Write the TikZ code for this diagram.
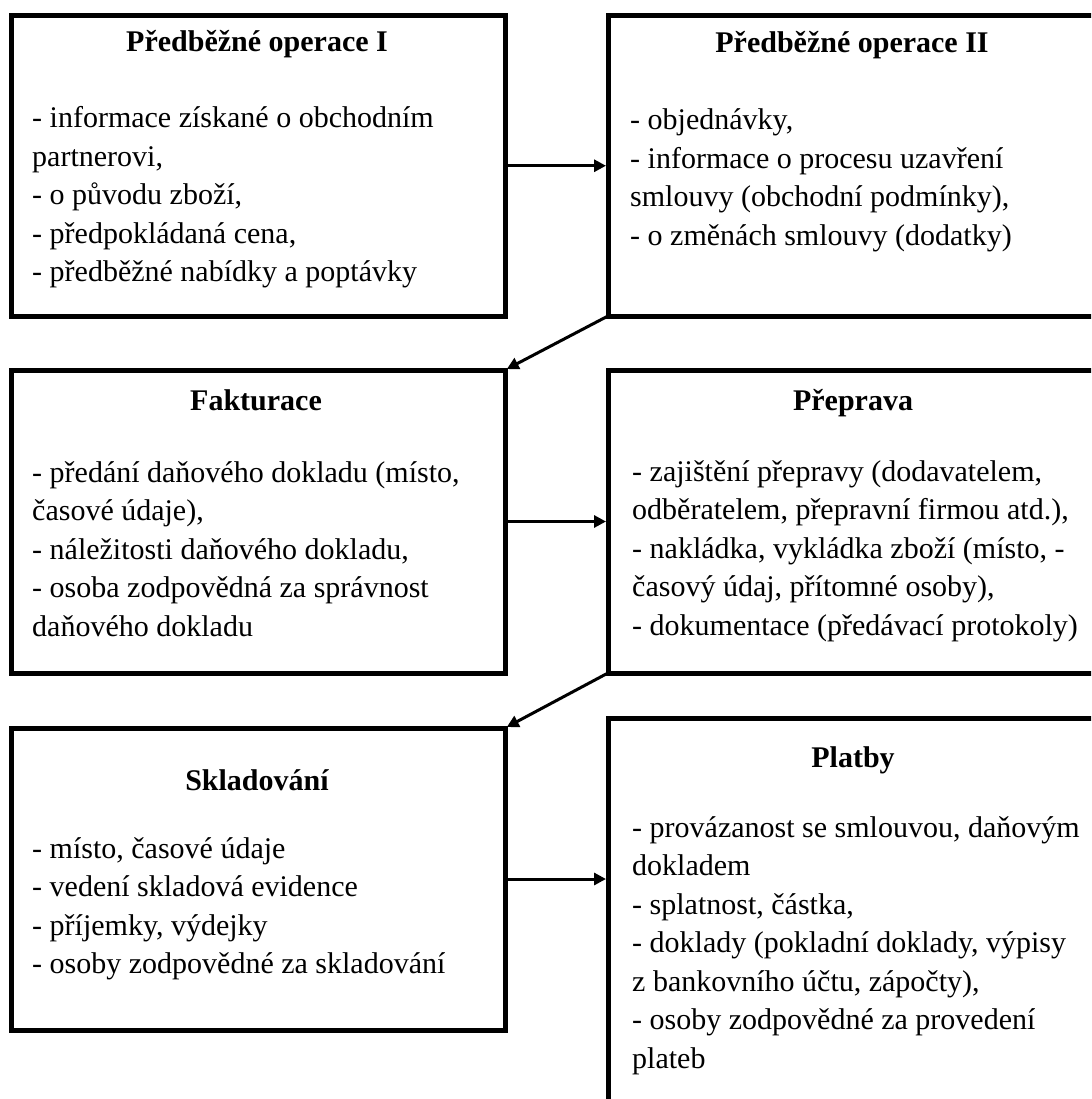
\documentclass[tikz,border=0pt]{standalone}
\usepackage{fontspec}
\setmainfont{Liberation Serif}
\usetikzlibrary{arrows.meta}

\tikzset{
  stage/.style={draw=black, line width=5pt, rectangle, outer sep=0pt, inner sep=0pt, fill=white},
  heading/.style={anchor=base, inner sep=0pt, font=\fontsize{30}{38.5}\selectfont\bfseries},
  items/.style={anchor=base west, inner sep=0pt, font=\fontsize{30}{38.5}\selectfont},
  flow/.style={line width=3pt, -{Triangle[length=12pt,width=12pt]}, shorten >=2pt},
}
\newcommand{\itemlist}[1]{\begin{tabular}[t]{@{}l@{}}#1\end{tabular}}

\begin{document}
\begin{tikzpicture}[x=1pt, y=-1pt]
  \useasboundingbox (0,0) rectangle (1091,1099);
  \fill[white] (0,0) rectangle (1091,1099);
  \clip (0,0) rectangle (1091,1099);

  % stage boxes (left column, right column running off the page)
  \node[stage, minimum width=493.5pt, minimum height=300.5pt] (b1) at (258.25,165.75) {};
  \node[stage, minimum width=500pt,   minimum height=300.5pt] (b2) at (858,165.75) {};
  \node[stage, minimum width=493.5pt, minimum height=303pt]   (b3) at (258.25,521.5) {};
  \node[stage, minimum width=500pt,   minimum height=303pt]   (b4) at (858,521.5) {};
  \node[stage, minimum width=493.5pt, minimum height=302pt]   (b5) at (258.25,879) {};
  \node[stage, minimum width=500pt,   minimum height=400pt]   (b6) at (858,918) {};

  % headings
  \node[heading] (h1) at (257,52)  {Předběžné operace I};
  \node[heading] (h2) at (852,53)  {Předběžné operace II};
  \node[heading] (h3) at (256,410) {Fakturace};
  \node[heading] (h4) at (853,410) {Přeprava};
  \node[heading] (h5) at (257,790) {Skladování};
  \node[heading] (h6) at (853,767) {Platby};

  % item lists
  \node[items] (l1) at (32,128) {\itemlist{%
    - informace získané o obchodním\\
    partnerovi,\\
    - o původu zboží,\\
    - předpokládaná cena,\\
    - předběžné nabídky a poptávky}};
  \node[items] (l2) at (630,130) {\itemlist{%
    - objednávky,\\
    - informace o procesu uzavření\\
    smlouvy (obchodní podmínky),\\
    - o změnách smlouvy (dodatky)}};
  \node[items] (l3) at (32,482) {\itemlist{%
    - předání daňového dokladu (místo,\\
    časové údaje),\\
    - náležitosti daňového dokladu,\\
    - osoba zodpovědná za správnost\\
    daňového dokladu}};
  \node[items] (l4) at (632,481) {\itemlist{%
    - zajištění přepravy (dodavatelem,\\
    odběratelem, přepravní firmou atd.),\\
    - nakládka, vykládka zboží (místo, -\\
    časový údaj, přítomné osoby),\\
    - dokumentace (předávací protokoly)}};
  \node[items] (l5) at (32,858) {\itemlist{%
    - místo, časové údaje\\
    - vedení skladová evidence\\
    - příjemky, výdejky\\
    - osoby zodpovědné za skladování}};
  \node[items] (l6) at (632,837) {\itemlist{%
    - provázanost se smlouvou, daňovým\\
    dokladem\\
    - splatnost, částka,\\
    - doklady (pokladní doklady, výpisy\\
    z bankovního účtu, zápočty),\\
    - osoby zodpovědné za provedení\\
    plateb}};

  % flow between stages
  \draw[flow] (b1.east) -- (b2.west);
  \draw[flow] (b2.south west) -- (b3.north east);
  \draw[flow] (b3.east) -- (b4.west);
  \draw[flow] (b4.south west) -- (b5.north east);
  \draw[flow] (b5.east) -- (b5.east -| b6.west);
\end{tikzpicture}
\end{document}
